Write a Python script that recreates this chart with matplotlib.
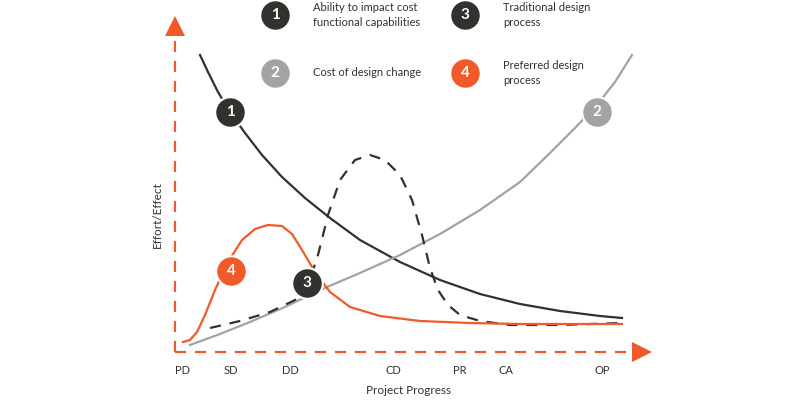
import matplotlib
matplotlib.use("Agg")
import matplotlib.pyplot as plt

DARK = "#33312e"; GRAY = "#a3a3a3"; ORANGE = "#f05a28"

phases = ["PD", "SD", "DD", "CD", "PR", "CA", "OP"]
phase_x = [183, 231, 290, 393, 460, 506, 602]

c1_x = [200, 208, 218, 230, 245, 262, 282, 305, 330, 360, 400, 440, 480, 520, 560, 600, 622]
c1_y = [55, 72, 92, 112, 133, 155, 177, 198, 218, 240, 262, 280, 294, 304, 311, 316, 318]
c2_x = [190, 220, 250, 285, 320, 360, 400, 440, 480, 520, 550, 575, 597, 615, 632]
c2_y = [345, 334, 322, 307, 290, 273, 255, 234, 210, 182, 153, 128, 105, 82, 55]
c3_x = [210, 240, 270, 295, 308, 318, 328, 340, 355, 370, 385, 400, 412, 422, 430, 438, 448, 460, 480, 510, 560, 622]
c3_y = [328, 321, 312, 300, 285, 255, 215, 180, 160, 155, 160, 175, 200, 235, 268, 290, 305, 315, 321, 325, 325, 323]
c4_x = [183, 190, 197, 205, 215, 228, 242, 255, 268, 282, 292, 302, 315, 330, 350, 380, 420, 470, 520, 570, 622]
c4_y = [342, 340, 332, 315, 290, 262, 240, 229, 225, 226, 234, 250, 272, 292, 307, 316, 321, 323, 324, 324, 324]

badges = [("1", 230, 112, DARK), ("2", 597, 112, GRAY), ("3", 307, 283, DARK), ("4", 231, 271, ORANGE)]
legend = [("1", 275, 15, DARK, "Ability to impact cost\nfunctional capabilities"),
          ("2", 275, 73, GRAY, "Cost of design change"),
          ("3", 465, 15, DARK, "Traditional design\nprocess"),
          ("4", 465, 73, ORANGE, "Preferred design\nprocess")]

fig = plt.figure(figsize=(8, 4), dpi=100)
ax = fig.add_axes([0, 0, 1, 1])
ax.set_xlim(0, 800); ax.set_ylim(400, 0); ax.axis("off")

ax.plot(c1_x, c1_y, color=DARK, lw=1.6)
ax.plot(c2_x, c2_y, color=GRAY, lw=1.6)
ax.plot(c3_x, c3_y, color=DARK, lw=1.6, ls=(0, (5, 4)))
ax.plot(c4_x, c4_y, color=ORANGE, lw=1.6)

# axes
ax.plot([175, 175], [352, 35], color=ORANGE, lw=1.6, ls=(0, (5, 4)))
ax.plot([175, 635], [352, 352], color=ORANGE, lw=1.6, ls=(0, (5, 4)))
ax.plot([175], [26], marker="^", color=ORANGE, ms=14, mew=0)
ax.plot([642], [352], marker=">", color=ORANGE, ms=14, mew=0)

for lab, x in zip(phases, phase_x):
    ax.text(x, 370, lab, ha="center", va="center", fontsize=8, color=DARK, family="Lato")
ax.text(409, 391, "Project Progress", ha="center", va="center", fontsize=8.5, color=DARK, family="Lato")
ax.text(157, 215, "Effort/Effect", ha="center", va="center", rotation=90, fontsize=8.5, color=DARK, family="Lato")

for n, x, y, c in badges:
    ax.plot([x], [y], "o", ms=22, color=c, mec="white", mew=1.5)
    ax.text(x, y, n, ha="center", va="center", color="white", fontsize=11, fontweight="bold", family="Lato")
for n, x, y, c, t in legend:
    ax.plot([x], [y], "o", ms=22, color=c, mec="white", mew=1.5)
    ax.text(x, y, n, ha="center", va="center", color="white", fontsize=11, fontweight="bold", family="Lato")
    ax.text(x + 38, y, t, ha="left", va="center", color=DARK, fontsize=8, family="Lato", linespacing=1.4)

fig.savefig("out.png", dpi=100)
